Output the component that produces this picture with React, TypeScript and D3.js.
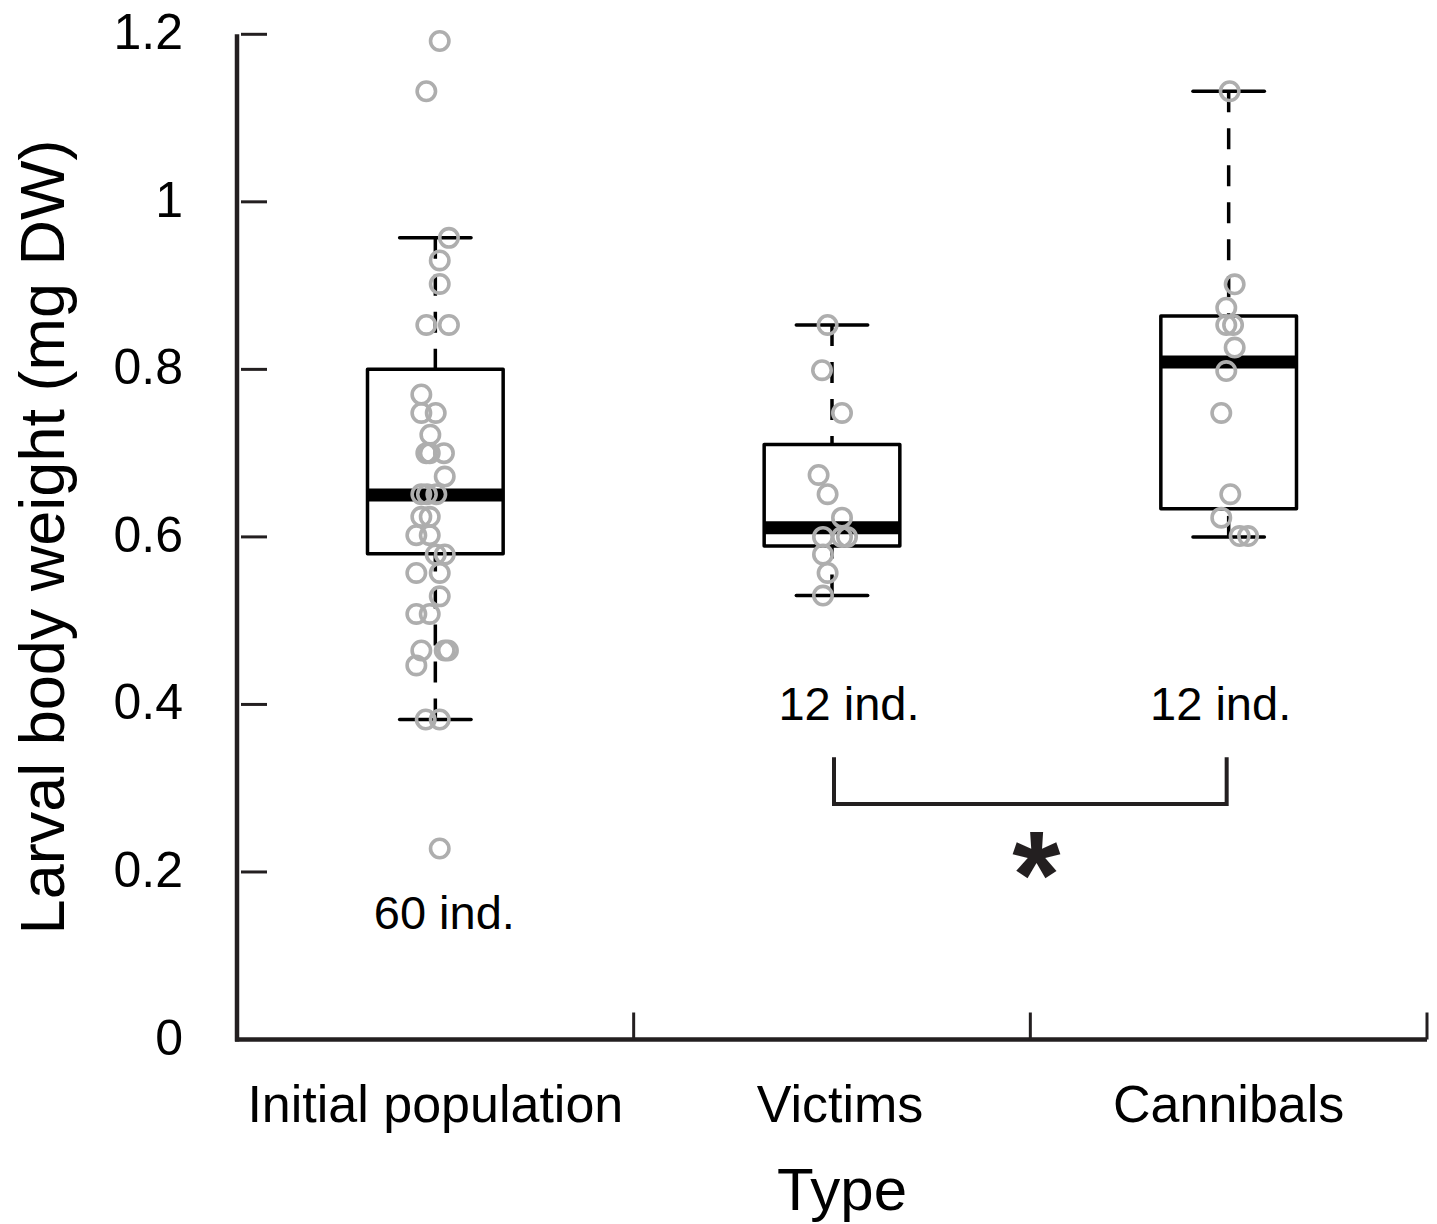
import * as d3 from "d3";
import { useEffect, useRef } from "react";

// categories and axis ticks
const categories = ["Initial population", "Victims", "Cannibals"];
const yTicks = [0, 0.2, 0.4, 0.6, 0.8, 1, 1.2];

// box statistics (mg DW)
const whiskerLow = [0.382, 0.53, 0.6];
const q1 = [0.58, 0.589, 0.6336];
const median = [0.65, 0.611, 0.8087];
const q3 = [0.8, 0.7104, 0.8637];
const whiskerHigh = [0.957, 0.853, 1.132];

// individual larvae: [weight, jitter]
const initialPoints: [number, number][] = [
  [1.192, 0.22], [1.132, -0.45], [0.957, 0.68], [0.93, 0.22], [0.902, 0.22],
  [0.853, -0.45], [0.853, 0.68], [0.77, -0.7], [0.748, -0.7], [0.748, 0.02],
  [0.722, -0.25], [0.7, -0.45], [0.7, -0.28], [0.7, 0.43], [0.672, 0.47],
  [0.651, -0.7], [0.651, -0.42], [0.651, 0.05], [0.624, -0.7], [0.624, -0.28],
  [0.602, -0.95], [0.602, -0.28], [0.579, 0.02], [0.579, 0.47], [0.557, -0.95],
  [0.557, 0.22], [0.529, 0.22], [0.508, -0.95], [0.508, -0.28], [0.4645, -0.7],
  [0.4645, 0.47], [0.4645, 0.63], [0.4466, -0.95], [0.382, -0.48], [0.382, 0.22],
  [0.228, 0.22],
];
const victimPoints: [number, number][] = [
  [0.853, -0.22], [0.799, -0.5], [0.748, 0.5], [0.674, -0.67], [0.651, -0.22],
  [0.623, 0.5], [0.6, -0.45], [0.6, 0.5], [0.6, 0.75], [0.579, -0.45],
  [0.557, -0.22], [0.53, -0.45],
];
const cannibalPoints: [number, number][] = [
  [1.132, 0.05], [0.9015, 0.3], [0.8736, -0.12], [0.853, -0.12], [0.853, 0.22],
  [0.826, 0.3], [0.798, -0.12], [0.748, -0.37], [0.651, 0.08], [0.623, -0.37],
  [0.601, 0.55], [0.601, 0.97],
];
const points = [initialPoints, victimPoints, cannibalPoints];

const countLabels = ["60 ind.", "12 ind.", "12 ind."];
const countLabelY = [0.132, 0.381, 0.381];
const countLabelDx = [9, 17, -8];

function App() {
  const ref = useRef<SVGSVGElement | null>(null);

  useEffect(() => {
    document.body.style.margin = "0";
    const svg = d3.select(ref.current);
    svg.selectAll("*").remove();

    const ink = "#231f20";
    const font = "'Liberation Sans', Arial, Helvetica, sans-serif";

    const x = d3.scaleBand().domain(categories).range([237, 1427]);
    const y = d3.scaleLinear().domain([0, 1.2]).range([1039.5, 34.3]);
    const jitter = d3.scaleLinear().domain([-1, 1]).range([-20, 20]);
    const cx = (i: number) => (x(categories[i]) as number) + x.bandwidth() / 2;
    const boxW = x.bandwidth() * 0.342;
    const capW = x.bandwidth() * 0.18;

    // axes
    svg.append("line")
      .attr("x1", x.range()[0]).attr("x2", x.range()[0])
      .attr("y1", y(1.2)).attr("y2", y(0) + 2)
      .attr("stroke", ink).attr("stroke-width", 4.5);
    svg.append("line")
      .attr("x1", x.range()[0] - 2).attr("x2", x.range()[1])
      .attr("y1", y(0)).attr("y2", y(0))
      .attr("stroke", ink).attr("stroke-width", 4.5);

    svg.selectAll(".ytick")
      .data(yTicks.filter((d) => d > 0))
      .enter()
      .append("line")
      .attr("x1", 241).attr("x2", 267)
      .attr("y1", (d) => y(d)).attr("y2", (d) => y(d))
      .attr("stroke", ink).attr("stroke-width", 3);

    svg.selectAll(".ylab")
      .data(yTicks)
      .enter()
      .append("text")
      .attr("x", 183)
      .attr("y", (d) => y(d) + 15)
      .attr("text-anchor", "end")
      .attr("font-family", font)
      .attr("font-size", 50)
      .attr("fill", "#000")
      .text((d) => d3.format("~g")(d));

    const bounds = categories.slice(1).map((c) => x(c) as number).concat([x.range()[1]]);
    svg.selectAll(".xtick")
      .data(bounds)
      .enter()
      .append("line")
      .attr("x1", (d) => d).attr("x2", (d) => d)
      .attr("y1", y(0)).attr("y2", y(0) - 27)
      .attr("stroke", ink).attr("stroke-width", 3);

    svg.selectAll(".xlab")
      .data(categories)
      .enter()
      .append("text")
      .attr("x", (d, i) => cx(i) + (i === 1 ? 8 : 0))
      .attr("y", 1122)
      .attr("text-anchor", "middle")
      .attr("font-family", font)
      .attr("font-size", 52)
      .attr("fill", "#000")
      .text((d) => d);

    svg.append("text")
      .attr("x", 842).attr("y", 1210)
      .attr("text-anchor", "middle")
      .attr("font-family", font).attr("font-size", 60)
      .attr("fill", "#000")
      .text("Type");

    svg.append("text")
      .attr("transform", "translate(64,537) rotate(-90)")
      .attr("text-anchor", "middle")
      .attr("font-family", font).attr("font-size", 63)
      .attr("fill", "#000")
      .text("Larval body weight (mg DW)");

    // boxplots
    categories.forEach((c, i) => {
      const g = svg.append("g");
      const c0 = cx(i);
      // whiskers (dashed)
      g.append("line")
        .attr("x1", c0).attr("x2", c0)
        .attr("y1", y(whiskerHigh[i])).attr("y2", y(q3[i]))
        .attr("stroke", "#000").attr("stroke-width", 3.5)
        .attr("stroke-dasharray", "21,16");
      g.append("line")
        .attr("x1", c0).attr("x2", c0)
        .attr("y1", y(whiskerLow[i])).attr("y2", y(q1[i]))
        .attr("stroke", "#000").attr("stroke-width", 3.5)
        .attr("stroke-dasharray", "21,16");
      [whiskerLow[i], whiskerHigh[i]].forEach((v) => {
        g.append("line")
          .attr("x1", c0 - capW / 2).attr("x2", c0 + capW / 2)
          .attr("y1", y(v)).attr("y2", y(v))
          .attr("stroke", "#000").attr("stroke-width", 3.5)
          .attr("stroke-linecap", "round");
      });
      g.append("rect")
        .attr("x", c0 - boxW / 2).attr("width", boxW)
        .attr("y", y(q3[i])).attr("height", y(q1[i]) - y(q3[i]))
        .attr("fill", "none")
        .attr("stroke", "#000").attr("stroke-width", 3.5)
        .attr("stroke-linejoin", "round");
      g.append("line")
        .attr("x1", c0 - boxW / 2).attr("x2", c0 + boxW / 2)
        .attr("y1", y(median[i])).attr("y2", y(median[i]))
        .attr("stroke", "#000").attr("stroke-width", 13);

      g.selectAll("circle")
        .data(points[i])
        .enter()
        .append("circle")
        .attr("cx", (d) => c0 + jitter(d[1]))
        .attr("cy", (d) => y(d[0]))
        .attr("r", 9.2)
        .attr("fill", "none")
        .attr("stroke", "#aeaeae")
        .attr("stroke-width", 3.6);

      svg.append("text")
        .attr("x", c0 + countLabelDx[i])
        .attr("y", y(countLabelY[i]))
        .attr("text-anchor", "middle")
        .attr("font-family", font).attr("font-size", 47)
        .attr("fill", "#000")
        .text(countLabels[i]);
    });

    // significance bracket between Victims and Cannibals
    const bx1 = cx(1) + 2;
    const bx2 = cx(2) - 2;
    svg.append("path")
      .attr("d", d3.line()([
        [bx1, y(0.337)], [bx1, y(0.281)], [bx2, y(0.281)], [bx2, y(0.337)],
      ]))
      .attr("fill", "none")
      .attr("stroke", ink).attr("stroke-width", 4);
    svg.append("text")
      .attr("x", (bx1 + bx2) / 2 + 6)
      .attr("y", y(0.218) + 61)
      .attr("text-anchor", "middle")
      .attr("font-family", font).attr("font-weight", "bold")
      .attr("font-size", 124)
      .attr("fill", ink)
      .text("*");
  }, []);

  return <svg ref={ref} width={1437} height={1224} style={{ display: "block", background: "#fff" }}></svg>;
}

export default App;
